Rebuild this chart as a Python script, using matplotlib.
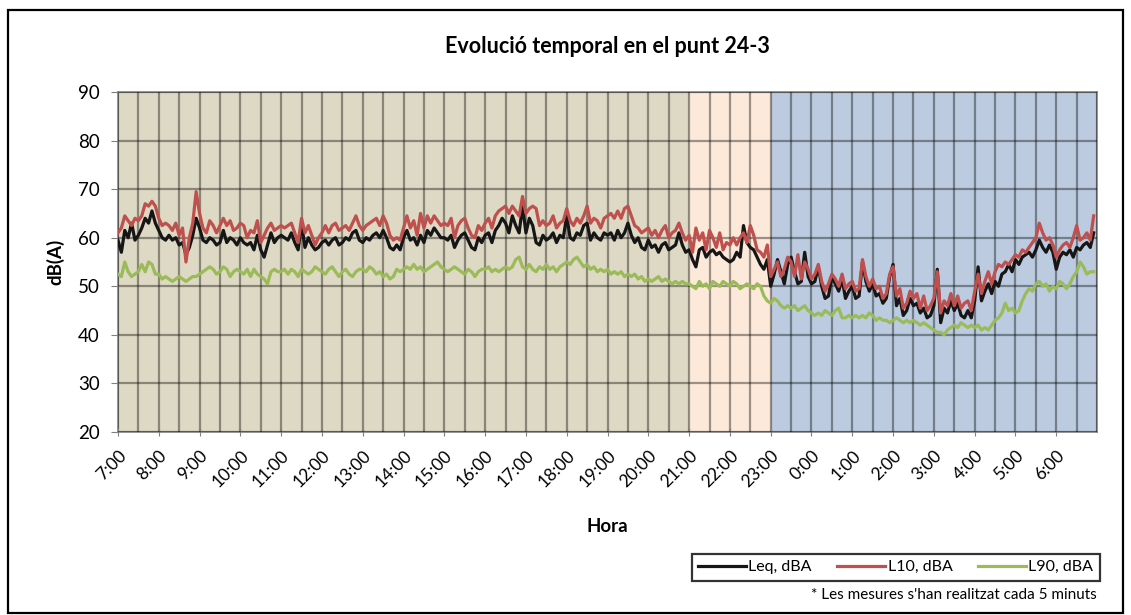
import numpy as np
import matplotlib
matplotlib.use("Agg")
import matplotlib.pyplot as plt
from matplotlib.ticker import MultipleLocator, FixedLocator
from matplotlib.patches import Rectangle

plt.rcParams['font.family'] = ['Lato', 'DejaVu Sans']

# hour labels, 7:00 to 6:00 (next day)
hour_labels = ["7:00", "8:00", "9:00", "10:00", "11:00", "12:00", "13:00", "14:00",
               "15:00", "16:00", "17:00", "18:00", "19:00", "20:00", "21:00", "22:00",
               "23:00", "0:00", "1:00", "2:00", "3:00", "4:00", "5:00", "6:00"]

# one row per hour, 12 readings (every 5 minutes)
leq = [
    [59.5, 57.0, 61.5, 60.0, 63.0, 59.5, 60.5, 62.0, 64.0, 63.0, 65.5, 63.0],
    [61.5, 60.0, 59.5, 60.5, 59.5, 60.0, 58.5, 59.0, 56.5, 58.0, 60.5, 64.0],
    [62.0, 59.5, 59.0, 60.0, 59.5, 58.5, 59.0, 61.5, 59.0, 60.0, 59.5, 58.5],
    [60.0, 59.0, 58.5, 59.0, 57.5, 60.5, 57.5, 56.0, 58.5, 61.0, 59.0, 60.0],
    [60.5, 60.0, 59.5, 61.0, 59.0, 57.5, 63.0, 58.0, 60.0, 58.5, 57.5, 58.0],
    [59.0, 59.5, 58.5, 59.5, 60.0, 58.5, 59.0, 60.0, 59.5, 61.0, 61.5, 59.5],
    [59.0, 60.0, 59.5, 60.5, 61.0, 60.0, 61.5, 60.0, 58.0, 57.5, 58.5, 57.5],
    [60.0, 61.5, 59.5, 60.0, 58.5, 60.5, 59.0, 61.5, 60.5, 62.0, 61.0, 60.0],
    [60.0, 59.5, 60.5, 58.0, 59.5, 60.5, 61.0, 59.5, 58.0, 57.5, 60.0, 59.0],
    [60.5, 61.0, 59.0, 61.5, 62.5, 64.0, 63.0, 61.0, 64.5, 62.5, 61.0, 66.5],
    [61.0, 64.0, 62.5, 59.0, 58.5, 60.5, 59.5, 60.0, 61.0, 59.0, 60.5, 60.0],
    [64.5, 60.0, 59.5, 61.0, 60.5, 62.5, 63.0, 59.5, 61.0, 60.0, 59.5, 61.0],
    [60.5, 61.0, 59.5, 61.5, 60.0, 61.0, 63.0, 60.5, 59.0, 60.0, 58.0, 57.5],
    [59.5, 58.0, 58.5, 57.0, 58.5, 59.0, 57.5, 58.0, 58.5, 61.0, 58.5, 57.0],
    [57.5, 55.5, 54.0, 57.5, 58.0, 56.0, 57.0, 57.5, 56.5, 57.0, 56.0, 55.5],
    [55.0, 55.5, 57.0, 56.0, 62.5, 59.0, 58.0, 57.5, 56.0, 54.5, 53.5, 55.5],
    [50.0, 52.5, 55.5, 53.0, 50.5, 54.5, 56.0, 53.0, 50.5, 51.0, 57.0, 52.0],
    [50.5, 51.0, 54.0, 50.0, 47.5, 48.0, 52.0, 50.5, 49.0, 51.5, 47.5, 49.0],
    [50.0, 47.5, 48.0, 55.0, 51.0, 49.0, 50.5, 48.0, 48.5, 46.5, 47.5, 52.0],
    [54.5, 46.0, 47.5, 44.0, 45.0, 47.5, 46.0, 46.5, 44.5, 45.5, 43.5, 44.0],
    [46.0, 53.5, 42.5, 45.5, 44.5, 47.0, 45.0, 46.5, 44.0, 43.5, 45.0, 43.5],
    [47.0, 54.0, 47.0, 49.0, 50.5, 48.5, 51.0, 50.0, 52.5, 53.0, 54.5, 53.0],
    [55.5, 54.5, 56.0, 56.5, 57.0, 56.0, 57.5, 59.5, 58.0, 57.0, 58.5, 57.0],
    [53.5, 56.0, 57.0, 56.5, 57.5, 56.0, 58.0, 57.5, 58.5, 59.0, 58.0, 61.0],
]

l10 = [
    [61.0, 62.0, 64.5, 63.5, 62.5, 64.0, 63.5, 64.5, 67.0, 66.5, 67.5, 66.5],
    [64.0, 62.5, 63.0, 62.5, 61.5, 63.0, 60.5, 62.0, 55.0, 60.0, 63.0, 69.5],
    [65.0, 62.0, 61.0, 63.5, 62.5, 61.0, 62.5, 64.0, 62.5, 63.5, 61.5, 62.0],
    [63.0, 62.5, 60.0, 61.5, 61.0, 63.5, 59.0, 60.5, 62.0, 63.0, 61.5, 62.0],
    [62.5, 62.0, 62.5, 63.0, 61.0, 59.0, 64.0, 61.0, 62.5, 60.5, 58.5, 60.0],
    [61.0, 62.5, 61.0, 62.5, 63.0, 61.5, 62.0, 62.5, 61.5, 63.0, 64.5, 62.5],
    [61.5, 62.5, 63.0, 63.5, 64.0, 62.5, 64.5, 63.0, 60.5, 59.5, 60.0, 59.5],
    [62.0, 64.5, 62.0, 63.5, 60.5, 65.0, 62.0, 64.5, 63.0, 64.5, 63.5, 62.5],
    [63.0, 62.5, 64.0, 60.0, 62.5, 63.5, 64.0, 62.0, 60.5, 60.0, 62.5, 61.5],
    [63.0, 64.0, 62.0, 64.5, 65.5, 66.0, 66.5, 65.0, 66.5, 65.5, 64.5, 68.5],
    [65.0, 66.0, 66.5, 66.0, 62.5, 63.5, 62.5, 63.0, 64.5, 62.0, 63.0, 63.5],
    [66.0, 63.5, 62.5, 64.0, 63.0, 64.5, 66.5, 63.0, 64.0, 63.5, 62.0, 64.0],
    [64.5, 65.0, 64.0, 65.5, 64.0, 66.0, 66.5, 64.5, 62.5, 62.0, 61.0, 61.5],
    [62.0, 60.5, 61.5, 60.0, 61.5, 62.5, 60.0, 61.0, 61.5, 63.0, 61.0, 59.5],
    [60.5, 57.0, 62.0, 59.5, 61.0, 57.5, 61.5, 60.0, 58.0, 61.0, 57.5, 59.0],
    [58.5, 60.0, 58.5, 60.0, 61.0, 59.0, 62.5, 60.5, 57.5, 57.0, 56.0, 58.5],
    [52.0, 53.5, 55.0, 52.0, 53.5, 56.0, 55.0, 52.0, 56.5, 51.5, 55.0, 53.5],
    [51.5, 52.5, 54.5, 51.0, 49.0, 50.5, 52.5, 51.5, 50.0, 52.5, 49.5, 50.5],
    [51.0, 49.0, 49.5, 55.5, 52.0, 50.0, 51.5, 49.5, 50.0, 47.5, 48.5, 52.5],
    [54.0, 48.0, 49.5, 45.5, 46.5, 49.0, 47.5, 48.5, 45.5, 48.0, 45.0, 46.0],
    [47.5, 53.0, 44.5, 47.0, 46.0, 48.5, 46.0, 48.0, 45.5, 46.5, 47.0, 45.0],
    [49.0, 52.5, 48.5, 51.0, 53.0, 50.5, 53.0, 54.5, 54.0, 55.0, 54.5, 55.5],
    [56.5, 56.0, 57.5, 57.0, 58.0, 59.0, 60.0, 63.0, 61.0, 59.5, 60.0, 58.5],
    [56.0, 57.5, 58.5, 59.0, 58.0, 60.0, 62.5, 59.5, 60.0, 61.0, 59.5, 64.5],
]

l90 = [
    [52.5, 52.0, 55.0, 53.0, 52.0, 52.5, 53.0, 54.5, 53.0, 55.0, 54.5, 52.5],
    [52.5, 51.5, 52.0, 51.5, 51.0, 51.5, 52.0, 51.5, 51.0, 51.5, 52.0, 52.0],
    [52.5, 53.0, 53.5, 54.0, 53.5, 52.5, 53.0, 54.0, 53.5, 52.0, 53.0, 53.5],
    [53.0, 52.5, 53.5, 52.0, 53.5, 52.5, 52.0, 51.5, 50.5, 53.0, 53.5, 53.0],
    [53.0, 53.5, 52.5, 53.5, 53.0, 52.0, 53.5, 53.0, 52.5, 53.0, 54.0, 53.5],
    [53.0, 52.5, 53.5, 54.0, 53.0, 52.0, 53.0, 53.5, 52.5, 52.0, 53.0, 53.5],
    [53.5, 53.0, 54.0, 53.5, 52.5, 53.0, 52.0, 52.5, 51.5, 52.0, 53.5, 53.0],
    [53.5, 54.0, 53.5, 54.5, 53.5, 54.0, 53.0, 53.5, 54.0, 54.5, 55.0, 54.0],
    [53.5, 53.0, 53.5, 54.0, 53.5, 53.0, 52.5, 53.5, 53.0, 52.0, 53.0, 53.5],
    [53.5, 54.0, 53.0, 53.5, 53.0, 53.5, 54.0, 53.5, 54.0, 55.5, 56.0, 54.0],
    [53.5, 54.5, 53.5, 53.0, 54.0, 53.5, 54.5, 53.5, 54.0, 53.0, 54.0, 54.5],
    [55.0, 54.5, 55.5, 56.0, 55.0, 54.0, 54.5, 53.5, 54.0, 53.0, 53.5, 53.0],
    [53.5, 52.5, 53.0, 52.5, 53.0, 52.0, 52.5, 52.0, 52.5, 51.5, 52.0, 51.0],
    [51.5, 51.0, 51.5, 52.0, 51.0, 51.5, 51.0, 50.5, 51.0, 50.5, 51.0, 50.5],
    [50.5, 50.0, 49.5, 51.0, 50.0, 50.5, 49.5, 51.0, 50.5, 50.0, 51.0, 50.5],
    [50.0, 51.0, 50.5, 49.5, 50.0, 50.5, 50.0, 49.5, 50.5, 50.0, 48.0, 47.0],
    [46.5, 47.5, 47.0, 46.0, 45.5, 46.0, 45.5, 46.0, 45.0, 45.5, 46.0, 45.0],
    [44.5, 44.0, 44.5, 44.0, 45.0, 44.5, 44.0, 45.0, 45.5, 43.5, 43.5, 44.0],
    [43.5, 44.0, 43.5, 44.0, 43.5, 44.5, 44.0, 43.0, 43.5, 43.0, 43.0, 42.5],
    [43.0, 43.5, 43.0, 42.5, 43.0, 42.5, 43.0, 42.5, 42.0, 42.5, 42.0, 41.5],
    [41.0, 40.5, 40.5, 40.0, 41.0, 41.5, 42.0, 41.5, 42.5, 42.0, 41.5, 42.0],
    [41.5, 42.0, 41.0, 41.5, 41.0, 42.0, 43.0, 43.5, 44.5, 46.5, 45.0, 45.5],
    [44.5, 45.0, 47.0, 48.5, 49.5, 49.0, 50.5, 51.0, 50.0, 50.5, 49.0, 50.0],
    [49.5, 51.0, 50.5, 49.5, 50.5, 52.0, 53.0, 55.0, 54.0, 52.5, 53.0, 53.0],
]

leq = np.array(leq).ravel()
l10 = np.array(l10).ravel()
l90 = np.array(l90).ravel()
t = np.arange(len(leq)) / 12.0   # hours after 7:00

fig = plt.figure(figsize=(11.31, 6.15), dpi=100)
ax = fig.add_axes([0.1043, 0.2976, 0.8657, 0.5528])

# day / evening / night periods
ax.axvspan(0, 14, color='#ddd9c4', zorder=0, lw=0)
ax.axvspan(14, 16, color='#fde9d9', zorder=0, lw=0)
ax.axvspan(16, 24, color='#bccbe0', zorder=0, lw=0)

ax.plot(t, leq, color='#161616', lw=2.3, label='Leq, dBA', zorder=3)
ax.plot(t, l10, color='#c0504d', lw=2.3, label='L10, dBA', zorder=4)
ax.plot(t, l90, color='#9bbb59', lw=2.3, label='L90, dBA', zorder=5)

ax.set_xlim(0, 24)
ax.set_ylim(20, 90)
ax.yaxis.set_major_locator(MultipleLocator(10))
ax.xaxis.set_major_locator(FixedLocator(np.arange(24)))
ax.xaxis.set_minor_locator(MultipleLocator(0.5))
ax.set_xticklabels(hour_labels, rotation=45, ha='right', rotation_mode='anchor', fontsize=12.5)
ax.tick_params(axis='y', labelsize=13.5, length=5, color='#808080', direction='out', pad=8)
ax.tick_params(axis='x', which='major', length=6, color='#808080', direction='inout', pad=8)
ax.tick_params(axis='x', which='minor', length=0)

ax.grid(True, which='both', axis='x', color='black', alpha=0.38, lw=1.6, zorder=1)
ax.grid(True, which='major', axis='y', color='black', alpha=0.38, lw=1.6, zorder=1)
ax.set_axisbelow(False)
for s in ax.spines.values():
    s.set_color('#8a8a8a')
    s.set_linewidth(1.3)
    s.set_zorder(2)

ax.set_title("Evolució temporal en el punt 24-3", fontsize=15.5, fontweight='bold', pad=28)
ax.set_xlabel("Hora", fontsize=13.5, fontweight='bold', labelpad=20)
ax.set_ylabel("dB(A)", fontsize=13.5, fontweight='bold', labelpad=10)

leg = fig.legend(loc='center', bbox_to_anchor=(0.792, 0.078), ncol=3,
                 fontsize=11.5, frameon=True, fancybox=False, handlelength=3.0,
                 handletextpad=0.15, columnspacing=1.6, borderpad=0.4)
leg.get_frame().set_edgecolor('black')
leg.get_frame().set_linewidth(1.6)

fig.text(0.970, 0.032, "* Les mesures s'han realitzat cada 5 minuts", ha='right',
         va='center', fontsize=11)

fig.patches.append(Rectangle((0.007, 0.004), 0.986, 0.98, transform=fig.transFigure,
                             fill=False, edgecolor='black', lw=1.6))

fig.savefig("out.png", dpi=100)
